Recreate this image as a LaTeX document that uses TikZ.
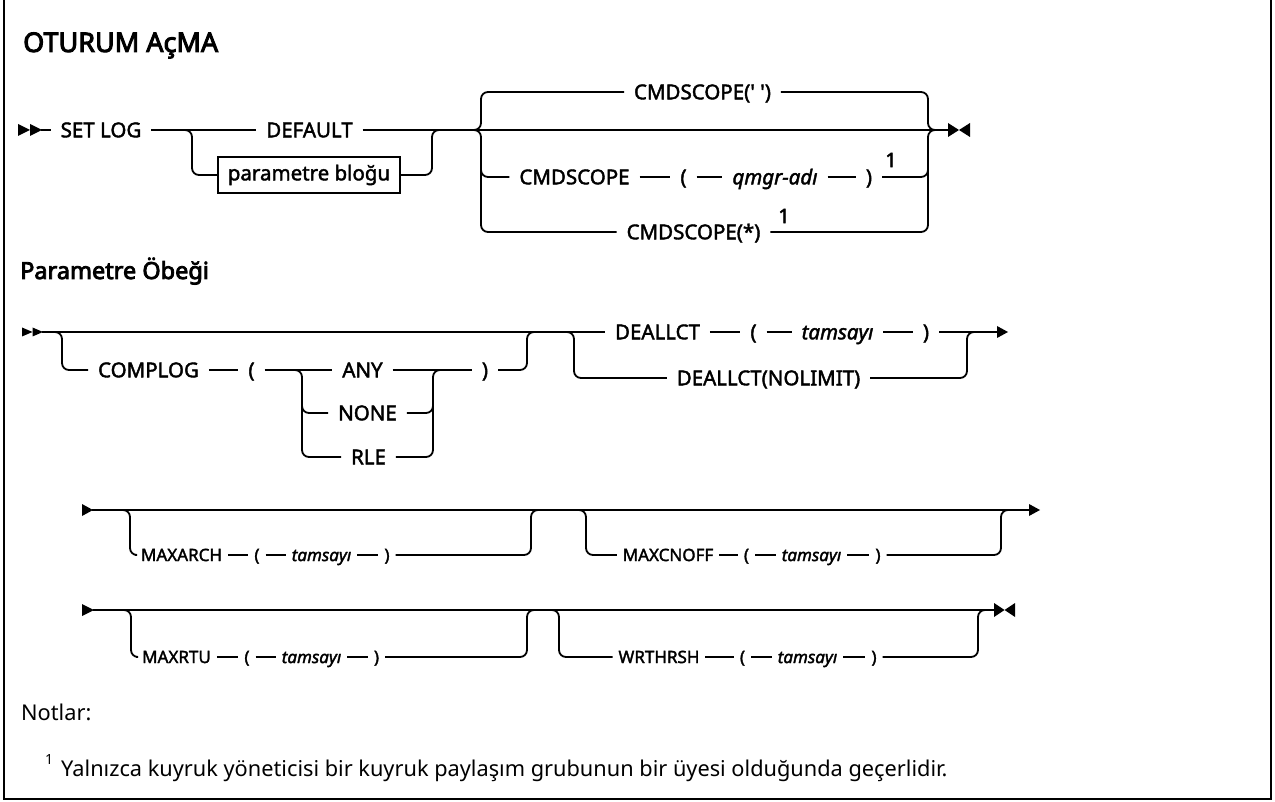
\documentclass[tikz,border=0pt]{standalone}
\usepackage{fontspec}
\setmainfont{Noto Sans}[AutoFakeBold=3.5]
\newfontfamily\tokfont{Noto Sans}[FakeBold=2]
\begin{document}
\begin{tikzpicture}[x=1pt,y=-1pt,
  rail/.style={line width=1.8pt},
  brc/.style={rail, rounded corners=7pt},
  tok/.style={font=\tokfont\fontsize{20.5}{24}\selectfont, inner sep=0pt, outer xsep=10pt, outer ysep=0pt, text height=14.6pt, text depth=0pt},
  var/.style={tok, font=\tokfont\fontsize{20.5}{24}\selectfont\itshape},
  stok/.style={font=\tokfont\fontsize{17}{20}\selectfont, inner sep=0pt, outer xsep=6pt, outer ysep=0pt, text height=12.1pt, text depth=0pt},
  svar/.style={stok, font=\tokfont\fontsize{17}{20}\selectfont\itshape},
  boxnode/.style={draw, line width=1.5pt, minimum width=182pt, minimum height=36pt, inner sep=0pt, font=\tokfont\fontsize{20.5}{24}\selectfont},
  titlef/.style={font=\bfseries\fontsize{27}{32}\selectfont, inner sep=0pt},
  secf/.style={font=\bfseries\fontsize{23.5}{28}\selectfont, inner sep=0pt},
  notef/.style={font=\fontsize{21.75}{26}\selectfont, inner sep=0pt},
  supf/.style={font=\fontsize{14}{16}\selectfont, inner sep=0pt},
  supnum/.style={font=\tokfont\fontsize{20}{24}\selectfont, inner sep=0pt}
]
\useasboundingbox (0,0) rectangle (1275,802);
% frame
\draw[line width=2.5pt] (4,-10) -- (4,799) -- (1271,799) -- (1271,-10);

% title
\node[titlef, anchor=base west] (title) at (23,52) {OTURUM AçMA};

% ---------- Row 1 ----------
\fill (18,124) -- (30,130) -- (18,136) -- cycle;
\fill (30,124) -- (42,130) -- (30,136) -- cycle;
\coordinate (s1) at (41,130);
\node[tok] (setlog) at (101,130) {SET LOG};
\node[tok] (default) at (309.5,130) {DEFAULT};
\node[boxnode] (pblk) at (309,175) {parametre bloğu};
\coordinate (e1) at (950,130);
\draw[rail] (s1) -- (setlog);
\draw[rail] (setlog) -- (default);
\draw[rail] (default) -- (e1);
\draw[brc] (178,130) -- (192,130) -- (192,175) -- (pblk.west);
\draw[brc] (pblk.east) -- (432,175) -- (432,130) -- (446,130);

\node[tok] (cs1) at (702.5,92) {CMDSCOPE(\textquotesingle\ \textquotesingle)};
\node[tok] (cs2) at (574.5,177) {CMDSCOPE};
\node[tok] (lp1) at (683.5,177) {(};
\node[var] (qmgr) at (775,177) {qmgr-adı};
\node[tok] (rp1) at (869,177) {)};
\node[supnum] (n1) at (891,160) {1};
\node[tok] (cs3) at (693.5,232) {CMDSCOPE(*)};
\node[supnum] (n2) at (784,216) {1};
\draw[brc] (468,130) -- (481,130) -- (481,92) -- (cs1.west);
\draw[brc] (cs1.east) -- (928,92) -- (928,130) -- (942,130);
\draw[brc] (468,130) -- (481,130) -- (481,232) -- (cs3.west);
\draw[brc] (481,165) -- (481,177) -- (cs2.west);
\draw[rail] (cs2) -- (lp1);
\draw[rail] (lp1) -- (qmgr);
\draw[rail] (qmgr) -- (rp1);
\draw[brc] (rp1.east) -- (928,177) -- (928,165);
\draw[brc] (cs3.east) -- (928,232) -- (928,130) -- (942,130);
\fill (948,123) -- (959,130) -- (948,137) -- cycle;
\fill (970,123) -- (959,130) -- (970,137) -- cycle;

% ---------- Row 2 ----------
\node[secf, anchor=base west] (sec2) at (20,279) {Parametre Öbeği};
\fill (22,327.5) -- (32.5,332) -- (22,336.5) -- cycle;
\fill (32.5,327.5) -- (43,332) -- (32.5,336.5) -- cycle;
\coordinate (s2) at (42,332);
\node[tok] (deal) at (657.5,332) {DEALLCT};
\draw[rail] (s2) -- (deal);
\node[tok] (complog) at (148.5,370) {COMPLOG};
\node[tok] (lp2) at (251.5,370) {(};
\node[tok] (any) at (362.5,370) {ANY};
\node[tok] (none) at (367.5,413) {NONE};
\node[tok] (rle) at (368.5,457) {RLE};
\node[tok] (rp2) at (485,370) {)};
\draw[brc] (48,332) -- (62,332) -- (62,370) -- (complog.west);
\draw[rail] (complog) -- (lp2);
\draw[rail] (lp2) -- (any);
\draw[rail] (any) -- (rp2);
\draw[brc] (288,370) -- (302,370) -- (302,457) -- (rle.west);
\draw[brc] (302,400) -- (302,413) -- (none.west);
\draw[brc] (rle.east) -- (433,457) -- (433,370) -- (447,370);
\draw[brc] (none.east) -- (433,413) -- (433,400);
\draw[brc] (rp2.east) -- (527,370) -- (527,332) -- (541,332);

\node[tok] (lp3) at (753.5,332) {(};
\node[var] (tams1) at (837.5,332) {tamsayı};
\node[tok] (rp3) at (926,332) {)};
\node[tok] (nolimit) at (768.5,378) {DEALLCT(NOLIMIT)};
\coordinate (a2) at (999,332);
\draw[rail] (deal) -- (lp3);
\draw[rail] (lp3) -- (tams1);
\draw[rail] (tams1) -- (rp3);
\draw[rail] (rp3) -- (a2);
\draw[brc] (560,332) -- (574,332) -- (574,378) -- (nolimit.west);
\draw[brc] (nolimit.east) -- (967,378) -- (967,332) -- (981,332);
\fill (997,326) -- (1008,332) -- (997,338) -- cycle;

% ---------- Row 3 ----------
\fill (82,504) -- (93,510) -- (82,516) -- cycle;
\coordinate (s3) at (92,510);
\coordinate (a3) at (1031,510);
\draw[rail] (s3) -- (a3);
\fill (1029,504) -- (1040,510) -- (1029,516) -- cycle;
\node[stok] (maxarch) at (181.5,555) {MAXARCH};
\node[stok] (lp4) at (257,555) {(};
\node[svar] (tams2) at (321.5,555) {tamsayı};
\node[stok] (rp4) at (387,555) {)};
\draw[brc] (116,510) -- (130,510) -- (130,555) -- (maxarch.west);
\draw[rail] (maxarch) -- (lp4);
\draw[rail] (lp4) -- (tams2);
\draw[rail] (tams2) -- (rp4);
\draw[brc] (rp4.east) -- (531,555) -- (531,510) -- (545,510);
\node[stok] (maxcn) at (668,555) {MAXCNOFF};
\node[stok] (lp5) at (746.5,555) {(};
\node[svar] (tams3) at (811.5,555) {tamsayı};
\node[stok] (rp5) at (878,555) {)};
\draw[brc] (572,510) -- (586,510) -- (586,555) -- (maxcn.west);
\draw[rail] (maxcn) -- (lp5);
\draw[rail] (lp5) -- (tams3);
\draw[rail] (tams3) -- (rp5);
\draw[brc] (rp5.east) -- (1001,555) -- (1001,510) -- (1015,510);

% ---------- Row 4 ----------
\fill (82,604) -- (94,610) -- (82,616) -- cycle;
\coordinate (s4) at (93,610);
\coordinate (e4) at (995,610);
\draw[rail] (s4) -- (e4);
\fill (994,603) -- (1004.5,610) -- (994,617) -- cycle;
\fill (1015,603) -- (1004.5,610) -- (1015,617) -- cycle;
\node[stok] (maxrtu) at (176.5,657) {MAXRTU};
\node[stok] (lp6) at (247,657) {(};
\node[svar] (tams4) at (311.5,657) {tamsayı};
\node[stok] (rp6) at (376.5,657) {)};
\draw[brc] (117,610) -- (131,610) -- (131,657) -- (maxrtu.west);
\draw[rail] (maxrtu) -- (lp6);
\draw[rail] (lp6) -- (tams4);
\draw[rail] (tams4) -- (rp6);
\draw[brc] (rp6.east) -- (527,657) -- (527,610) -- (541,610);
\node[stok] (wrt) at (659,657) {WRTHRSH};
\node[stok] (lp7) at (742.5,657) {(};
\node[svar] (tams5) at (807.5,657) {tamsayı};
\node[stok] (rp7) at (874,657) {)};
\draw[brc] (545,610) -- (559,610) -- (559,657) -- (wrt.west);
\draw[rail] (wrt) -- (lp7);
\draw[rail] (lp7) -- (tams5);
\draw[rail] (tams5) -- (rp7);
\draw[brc] (rp7.east) -- (978,657) -- (978,610) -- (992,610);

% ---------- Notes ----------
\node[notef, anchor=base west] (notlar) at (21,720) {Notlar:};
\node[supf, anchor=base west] (fn1) at (45,764) {1};
\node[notef, anchor=base west] (fn) at (61,776) {Yalnızca kuyruk yöneticisi bir kuyruk paylaşım grubunun bir üyesi olduğunda geçerlidir.};
\end{tikzpicture}
\end{document}
